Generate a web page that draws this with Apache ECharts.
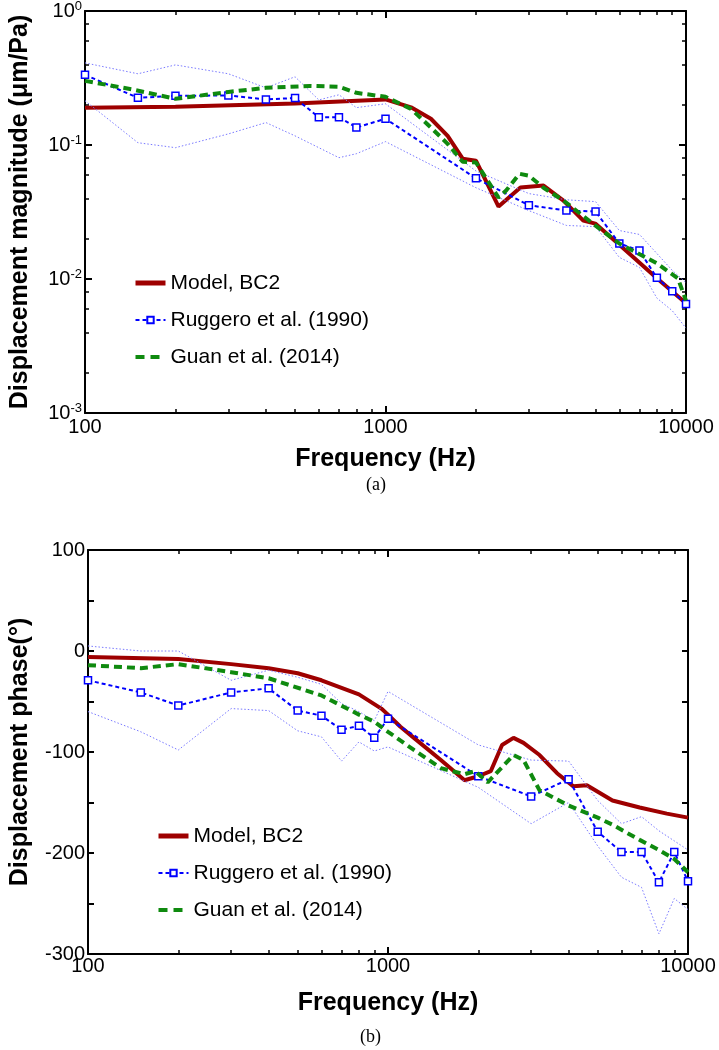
<!DOCTYPE html>
<html>
<head>
<meta charset="utf-8">
<script src="https://cdn.jsdelivr.net/npm/echarts@6/dist/echarts.min.js"></script>
<style>
html,body{margin:0;padding:0;background:#fff;}
#chart{width:719px;height:1050px;}
</style>
</head>
<body>
<div id="chart"></div>
<script>
// ---------- tick values ----------
const freqTicks = [100, 1000, 10000];
const freqMinorTicks = [200, 300, 400, 500, 600, 700, 800, 900, 2000, 3000, 4000, 5000, 6000, 7000, 8000, 9000];
const magTicks = [0.001, 0.01, 0.1, 1];
const magMinorTicks = [0.002, 0.004, 0.006, 0.008, 0.02, 0.04, 0.06, 0.08, 0.2, 0.4, 0.6, 0.8];
const phaseLabels = [-300, -200, -100, 0, 100];

// ---------- (a) magnitude ----------
const magModelFreq = [100, 200, 500, 1000, 1216, 1416, 1610, 1806, 2000, 2378, 2812, 3356, 3910, 4553, 4990, 6040, 8020, 10000];
const magModel = [0.190, 0.193, 0.204, 0.219, 0.191, 0.157, 0.117, 0.079, 0.0764, 0.0347, 0.0481, 0.0498, 0.0385, 0.0273, 0.0259, 0.0178, 0.0101, 0.0066];

const magRugFreq = [100, 150, 200, 300, 400, 500, 600, 700, 800, 1000, 2000, 3000, 4000, 5000, 6000, 7000, 8000, 9000, 10000];
const magRug = [0.334, 0.225, 0.233, 0.234, 0.219, 0.224, 0.161, 0.161, 0.135, 0.157, 0.0564, 0.0355, 0.0324, 0.0319, 0.0184, 0.0163, 0.0102, 0.0081, 0.0065];
const magRugUpper = [0.41, 0.34, 0.396, 0.34, 0.267, 0.323, 0.217, 0.237, 0.19, 0.203, 0.064, 0.0434, 0.039, 0.0378, 0.023, 0.0215, 0.0155, 0.0116, 0.0094];
const magRugLower = [0.214, 0.104, 0.0955, 0.121, 0.147, 0.117, 0.0955, 0.0804, 0.0861, 0.106, 0.048, 0.0324, 0.0251, 0.0246, 0.0145, 0.0122, 0.0072, 0.0058, 0.0043];

const magGuanFreq = [100, 146, 200, 300, 400, 560, 700, 800, 1000, 1216, 1416, 1610, 1806, 2000, 2378, 2520, 2790, 3000, 3356, 3910, 5000, 6000, 8000, 9400, 10000];
const magGuan = [0.301, 0.258, 0.221, 0.249, 0.267, 0.276, 0.272, 0.245, 0.229, 0.186, 0.135, 0.102, 0.075, 0.074, 0.0405, 0.0457, 0.061, 0.059, 0.048, 0.0385, 0.025, 0.0184, 0.0131, 0.0101, 0.0069];

// ---------- (b) phase ----------
const phModelFreq = [100, 200, 300, 400, 500, 600, 800, 950, 1000, 1100, 1220, 1500, 1800, 2000, 2200, 2400, 2620, 2830, 3200, 3660, 4150, 4600, 5600, 6900, 8500, 10000];
const phModel = [-6, -8, -13, -17, -22, -29, -43, -57, -63, -75, -86, -108, -128, -124, -119, -93, -86, -91, -103, -121, -134, -133, -148, -155, -161, -165];

const phRugFreq = [100, 150, 200, 300, 400, 500, 600, 700, 800, 900, 1000, 2000, 3000, 4000, 5000, 6000, 7000, 8000, 9000, 10000];
const phRug = [-29, -41, -54, -41, -37, -59, -64, -78, -74, -86, -67, -124, -144, -127, -179, -199, -199, -229, -199, -228];
const phRugUpper = [5, 0, 0, -29, -19, -26, -33, -52, -60, -69, -40, -93, -108, -109, -148, -171, -164, -178, -188, -197];
const phRugLower = [-60, -80, -98, -57, -59, -79, -85, -109, -90, -99, -95, -135, -171, -150, -193, -224, -234, -280, -245, -256];

const phGuanFreq = [100, 150, 200, 300, 400, 600, 800, 900, 1000, 1220, 1500, 1800, 1950, 2150, 2400, 2620, 2830, 3200, 4000, 5000, 5600, 6900, 8000, 9000, 10000];
const phGuan = [-14, -17, -13, -21, -27, -44, -63, -70, -80, -98, -116, -122, -119, -130, -115, -103, -108, -138, -153, -165, -172, -187, -197, -206, -219];

const names = ['Model, BC2', 'Ruggero et al. (1990)', 'Guan et al. (2014)'];

// ---------- helpers ----------
const FONT = '"Liberation Sans", Arial, sans-serif';
const zip = (xs, ys) => xs.map((x, i) => [x, ys[i]]);
const black = '#000';

function xAxes(grid, labelMargin, nameGap) {
  const base = {
    type: 'log', logBase: 10, min: 100, max: 10000, gridIndex: grid,
    splitLine: { show: false },
    axisLine: { show: false, onZero: false, lineStyle: { color: black, width: 2 } },
    axisLabel: { show: false },
    axisTick: { show: true, inside: true, length: 4, lineStyle: { color: black, width: 1.5 } }
  };
  const major = (pos, withLabels) => Object.assign({}, base, {
    position: pos,
    axisLine: { show: true, onZero: false, lineStyle: { color: black, width: 2 } },
    axisTick: { show: true, inside: true, length: 7, customValues: freqTicks, lineStyle: { color: black, width: 2 } },
    axisLabel: withLabels ? { show: true, customValues: freqTicks, fontSize: 20, color: black, fontFamily: FONT, margin: labelMargin,
      formatter: v => String(Math.round(v)) } : { show: false },
    name: withLabels ? 'Frequency (Hz)' : '',
    nameLocation: 'middle', nameGap: nameGap,
    nameTextStyle: { fontSize: 25, fontWeight: 'bold', color: black, fontFamily: FONT }
  });
  const minor = (pos) => Object.assign({}, base, {
    position: pos,
    axisTick: { show: true, inside: true, length: 4, customValues: freqMinorTicks, lineStyle: { color: black, width: 1.5 } }
  });
  return [major('bottom', true), minor('bottom'), major('top', false), minor('top')];
}

function magYAxes() {
  const base = {
    type: 'log', logBase: 10, min: 0.001, max: 1, gridIndex: 0,
    splitLine: { show: false },
    axisLine: { show: false, onZero: false },
    axisLabel: { show: false }
  };
  const major = (pos, withLabels) => Object.assign({}, base, {
    position: pos,
    axisLine: { show: true, onZero: false, lineStyle: { color: black, width: 2 } },
    axisTick: { show: true, inside: true, length: 7, customValues: magTicks, lineStyle: { color: black, width: 2 } },
    axisLabel: withLabels ? {
      show: true, customValues: magTicks, margin: 3,
      formatter: v => '{b|10}{s|' + Math.round(Math.log10(v)) + '}',
      rich: {
        b: { fontSize: 20, fontFamily: FONT, color: black, lineHeight: 22 },
        s: { fontSize: 13, fontFamily: FONT, color: black, lineHeight: 13, verticalAlign: 'top' }
      }
    } : { show: false },
    name: withLabels ? 'Displacement magnitude (\u03bcm/Pa)' : '',
    nameLocation: 'middle', nameGap: 52, nameRotate: 90,
    nameTextStyle: { fontSize: 25, fontWeight: 'bold', color: black, fontFamily: FONT }
  });
  const minor = (pos) => Object.assign({}, base, {
    position: pos,
    axisTick: { show: true, inside: true, length: 4, customValues: magMinorTicks, lineStyle: { color: black, width: 1.5 } }
  });
  return [major('left', true), minor('left'), major('right', false), minor('right')];
}

function phaseYAxes() {
  const mk = (pos, withLabels) => ({
    type: 'value', min: -300, max: 100, interval: 50, gridIndex: 1, position: pos,
    splitLine: { show: false },
    axisLine: { show: true, onZero: false, lineStyle: { color: black, width: 2 } },
    axisTick: { show: true, inside: true, length: 6, lineStyle: { color: black, width: 2 } },
    axisLabel: withLabels ? { show: true, customValues: phaseLabels, fontSize: 20, color: black, fontFamily: FONT, margin: 3 } : { show: false },
    name: withLabels ? 'Displacement phase(\u00b0)' : '',
    nameLocation: 'middle', nameGap: 55, nameRotate: 90,
    nameTextStyle: { fontSize: 25, fontWeight: 'bold', color: black, fontFamily: FONT }
  });
  return [mk('left', true), mk('right', false)];
}

const RED = '#9e0000', BLUE = '#0000ff', LBLUE = '#7a7aff', GREEN = '#0f8a0f';

function panelSeries(xi, yi, mF, m, rF, r, ru, rl, gF, g) {
  return [
    { name: names[0], type: 'line', xAxisIndex: xi, yAxisIndex: yi, data: zip(mF, m), symbol: 'none',
      lineStyle: { color: RED, width: 4 }, itemStyle: { color: RED }, z: 2 },
    { name: 'upper', type: 'line', xAxisIndex: xi, yAxisIndex: yi, data: zip(rF, ru), symbol: 'none',
      lineStyle: { color: LBLUE, width: 1, type: [1.5, 2] }, z: 3 },
    { name: 'lower', type: 'line', xAxisIndex: xi, yAxisIndex: yi, data: zip(rF, rl), symbol: 'none',
      lineStyle: { color: LBLUE, width: 1, type: [1.5, 2] }, z: 3 },
    { name: names[1], type: 'line', xAxisIndex: xi, yAxisIndex: yi, data: zip(rF, r), symbol: 'rect', symbolSize: 7,
      lineStyle: { color: BLUE, width: 2, type: [4, 3] },
      itemStyle: { color: '#ffffff', borderColor: BLUE, borderWidth: 1.5 }, z: 4 },
    { name: names[2], type: 'line', xAxisIndex: xi, yAxisIndex: yi, data: zip(gF, g), symbol: 'none',
      lineStyle: { color: GREEN, width: 4, type: [8, 5] }, itemStyle: { color: GREEN }, z: 5 }
  ];
}

const hidden = { color: 'rgba(0,0,0,0)', borderColor: 'rgba(0,0,0,0)', borderWidth: 0 };
const legendCommon = {
  orient: 'vertical', itemWidth: 30, itemHeight: 8, itemGap: 15, padding: 0,
  data: [
    { name: names[0], itemStyle: hidden, lineStyle: { color: RED, width: 5, type: 'solid' } },
    { name: names[1], lineStyle: { color: BLUE, width: 2, type: [4, 3] } },
    { name: names[2], itemStyle: hidden, lineStyle: { color: GREEN, width: 4, type: [9, 6] } }
  ],
  selectedMode: false,
  textStyle: { fontSize: 21, color: black, fontFamily: FONT, lineHeight: 22 }
};

const chart = echarts.init(document.getElementById('chart'), null, { renderer: 'canvas' });
chart.setOption({
  animation: false,
  backgroundColor: '#fff',
  grid: [
    { left: 84, right: 33, top: 10, height: 403 },
    { left: 86, right: 31, top: 550, height: 404 }
  ],
  xAxis: xAxes(0, 4, 34).concat(xAxes(1, 2, 37)),
  yAxis: magYAxes().concat(phaseYAxes()),
  legend: [
    Object.assign({}, legendCommon, { left: 133, top: 272 }),
    Object.assign({}, legendCommon, { left: 156, top: 825 })
  ],
  graphic: [
    { type: 'text', left: 366, top: 476, style: { text: '(a)', font: '18px "Liberation Serif", "Times New Roman", serif', fill: black } },
    { type: 'text', left: 360, top: 1028, style: { text: '(b)', font: '18px "Liberation Serif", "Times New Roman", serif', fill: black } }
  ],
  series: panelSeries(0, 0, magModelFreq, magModel, magRugFreq, magRug, magRugUpper, magRugLower, magGuanFreq, magGuan)
    .concat(panelSeries(4, 4, phModelFreq, phModel, phRugFreq, phRug, phRugUpper, phRugLower, phGuanFreq, phGuan))
});
</script>
</body>
</html>
